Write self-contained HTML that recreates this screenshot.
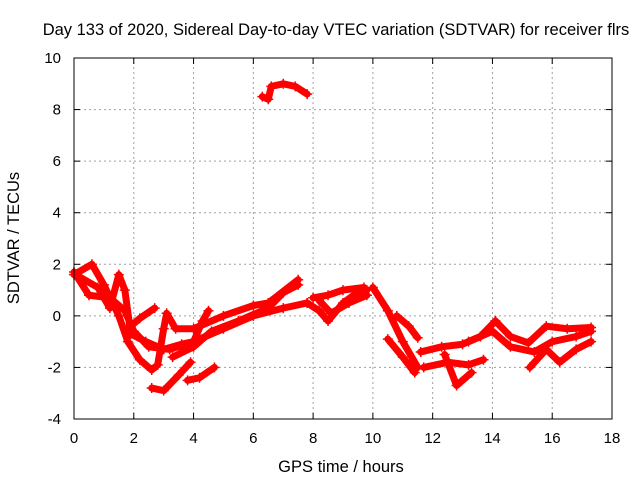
<!DOCTYPE html>
<html><head><meta charset="utf-8"><style>
body{margin:0;background:#fff}
svg{display:block;font-family:"Liberation Sans",sans-serif;font-size:15px}
</style></head><body>
<svg id="c" width="640" height="480">
<text x="336" y="35" text-anchor="middle" font-size="16.5">Day 133 of 2020, Sidereal Day-to-day VTEC variation (SDTVAR) for receiver flrs</text>
<text x="341" y="472" text-anchor="middle" font-size="16.5">GPS time / hours</text>
<text transform="translate(19,238) rotate(-90)" text-anchor="middle" font-size="16.5">SDTVAR / TECUs</text>
<g id="grid"></g><g id="ticks"></g><g id="series"></g>
<rect x="74" y="58" width="538" height="361" fill="none" stroke="#000" stroke-width="1"/>
</svg>
<script>
const xTicks=[0,2,4,6,8,10,12,14,16,18];
const yTicks=[-4,-2,0,2,4,6,8,10];
const traceA=[[0,1.7],[0.5,0.8],[1.2,0.7],[1.7,0.2],[2.0,-0.6],[2.5,-1.2],[3.2,-1.3],[4,-1.0],[5,-0.5],[6,0],[7,0.3],[7.8,0.5]];
const traceB=[[0,1.6],[0.6,2.0],[1,1.2],[1.5,0],[1.8,-1.0],[2.2,-1.7],[2.6,-2.1],[2.8,-1.9],[3.0,-0.5],[3.1,0.1],[3.4,-0.5],[4,-0.5],[5,0],[6,0.4],[6.5,0.5],[7.5,1.4]];
const traceC=[[0.2,1.5],[0.8,1.1],[1.2,0.3],[1.5,1.6],[1.7,1.0],[1.9,-0.7],[2.4,-1.0],[3.0,-1.3],[3.6,-1.1],[4.0,-1.0],[4.3,-0.2],[4.5,0.2]];
const traceD=[[1.8,-0.5],[2.2,-0.1],[2.7,0.3]];
const traceE=[[2.6,-2.8],[3.0,-2.9],[3.5,-2.3],[3.9,-1.8]];
const traceF=[[3.8,-2.5],[4.2,-2.4],[4.7,-2.0]];
const traceG=[[3.3,-1.6],[4,-1.2],[4.6,-0.6],[5.5,-0.2],[6.5,0.3],[7.0,0.9],[7.5,1.2]];
const traceTop=[[6.3,8.5],[6.5,8.4],[6.6,8.9],[7,9.0],[7.4,8.9],[7.8,8.6]];
const traceH=[[7.8,0.5],[8.2,0.2],[8.5,-0.2],[9,0.5],[9.6,1],[9.8,1]];
const traceI=[[8,0.7],[8.5,0.8],[9,1.0],[9.7,1.1]];
const traceJ=[[8.2,0.6],[8.6,0.1],[9.2,0.5],[9.8,0.8]];
const traceK=[[10,1.1],[10.5,0.2],[11,-1.0],[11.5,-2.0]];
const traceL=[[10.5,-0.9],[11,-1.6],[11.4,-2.2]];
const traceM=[[10.8,0],[11.2,-0.4],[11.5,-0.85]];
const traceN=[[11.6,-1.4],[12.3,-1.2],[13,-1.1],[13.6,-0.8],[14.1,-0.2]];
const traceO=[[11.7,-2],[12.5,-1.8],[13.2,-1.9],[13.7,-1.7]];
const traceP=[[12.4,-1.5],[12.8,-2.7],[13.3,-2.2]];
const traceQ=[[14.1,-0.2],[14.6,-0.8],[15.2,-1.05],[15.8,-0.4],[16.5,-0.5],[17.3,-0.45]];
const traceR=[[15.25,-2],[15.8,-1.3],[16.25,-1.8],[16.8,-1.3],[17.3,-1.0]];
const traceS=[[13.2,-1.0],[14,-0.6],[14.6,-1.2],[15.4,-1.4],[16,-1.0],[16.8,-0.8],[17.3,-0.6]];
const allTraces=[traceA,traceB,traceC,traceD,traceE,traceF,traceG,traceTop,traceH,traceI,traceJ,traceK,traceL,traceM,traceN,traceO,traceP,traceQ,traceR,traceS];
const X0=74,X1=612,Y0=419,Y1=58;
const sx=h=>X0+(h-0)/18*(X1-X0);
const sy=v=>Y0-(v+4)/14*(Y0-Y1);
const NS='http://www.w3.org/2000/svg';
function mk(t,a,p){const e=document.createElementNS(NS,t);for(const k in a)e.setAttribute(k,a[k]);p.appendChild(e);return e;}
const grid=document.getElementById('grid'),ticks=document.getElementById('ticks'),ser=document.getElementById('series');
xTicks.forEach(t=>{const x=sx(t);
 if(t>0&&t<18){const g=mk('line',{x1:x,x2:x,y1:Y0,y2:Y1,stroke:'#a0a0a0','stroke-dasharray':'2,3'},grid);
 
 }
 mk('line',{x1:x,x2:x,y1:Y0,y2:Y0-6,stroke:'#000'},ticks);mk('line',{x1:x,x2:x,y1:Y1,y2:Y1+6,stroke:'#000'},ticks);
 const l=mk('text',{x:x,y:Y0+24,'text-anchor':'middle'},ticks);l.textContent=t;
 
 });
yTicks.forEach(t=>{const y=sy(t);
 if(t>-4&&t<10){const g=mk('line',{x1:X0,x2:X1,y1:y,y2:y,stroke:'#a0a0a0','stroke-dasharray':'2,3'},grid);
 
 }
 mk('line',{x1:X0,x2:X0+6,y1:y,y2:y,stroke:'#000'},ticks);mk('line',{x1:X1,x2:X1-6,y1:y,y2:y,stroke:'#000'},ticks);
 const l=mk('text',{x:X0-13,y:y+5,'text-anchor':'end'},ticks);l.textContent=t;
 
 });
allTraces.forEach((tr,i)=>{
 const p=mk('polyline',{points:tr.map(d=>sx(d[0])+','+sy(d[1])).join(' '),fill:'none',stroke:'#f00','stroke-width':7,'stroke-linejoin':'round','stroke-linecap':'round'},ser);
 
 
 tr.forEach(d=>{const x=sx(d[0]),y=sy(d[1]);
  const m=mk('path',{d:`M${x-5},${y}h10M${x},${y-5}v10`,stroke:'#f00','stroke-width':1.5},ser);
  
  });
});
</script>
</body></html>
